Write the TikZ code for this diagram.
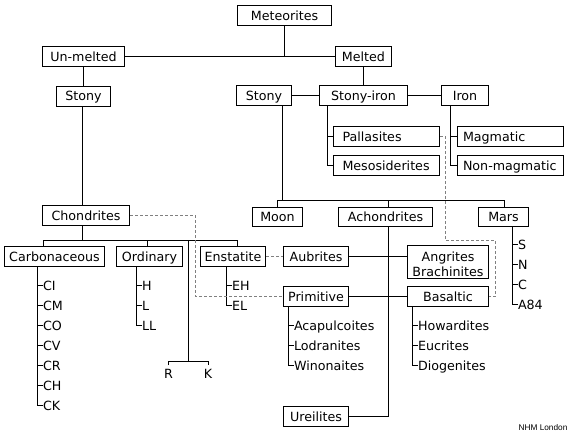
\documentclass[tikz,border=0pt]{standalone}
\usepackage{fontspec}
\setmainfont{DejaVu Sans}
\newfontfamily\nhmfont{Liberation Sans}
\newdimen\pxu \pxu=0.75pt
\tikzset{
  every node/.style={font=\fontsize{9.5}{11.25}\selectfont, inner sep=0pt},
  box/.style={draw, line width=0.75pt, rectangle, minimum height=20\pxu, text height=6.93pt, text depth=0pt},
  leaf/.style={anchor=west, text height=6.93pt, text depth=0pt},
  lbl/.style={text height=6.93pt, text depth=0pt},
  dsh/.style={line width=0.75pt, draw=gray, dash pattern=on 2.25pt off 1.5pt},
}
\begin{document}
\begin{tikzpicture}[x=0.75pt, y=-0.75pt, line width=0.75pt]
\fill[white] (0,0) rectangle (570,432);
\useasboundingbox (0,0) rectangle (570,432);
\begin{scope}[shift={(0.5,0.5)}]
% boxes
\node[box, minimum width=94\pxu] (met) at (284,15) {Meteorites};
\node[box, minimum width=82\pxu] (unm) at (83,56) {Un-melted};
\node[box, minimum width=56\pxu] (mel) at (363,56) {Melted};
\node[box, minimum width=54\pxu] (stl) at (83,95.5) {Stony};
\node[box, minimum width=55\pxu] (str) at (263.5,95) {Stony};
\node[box, minimum width=88\pxu] (sti) at (363,95) {Stony-iron};
\node[box, minimum width=47\pxu] (iron) at (464.5,95) {Iron};
\node[box, inner xsep=9\pxu, text width=88\pxu, align=left] (pal) at (386,136) {Pallasites};
\node[box, inner xsep=9\pxu, text width=88\pxu, align=left] (meso) at (386,165) {Mesosiderites};
\node[box, inner xsep=5.5\pxu, text width=95\pxu, align=left] (mag) at (510,136) {Magmatic};
\node[box, inner xsep=5.5\pxu, text width=95\pxu, align=left] (nmag) at (510,165) {Non-magmatic};
\node[box, minimum width=87\pxu] (chon) at (85.5,215) {Chondrites};
\node[box, minimum width=50\pxu, minimum height=19\pxu] (moon) at (277,216) {Moon};
\node[box, minimum width=94\pxu, minimum height=19\pxu] (ach) at (385,216) {Achondrites};
\node[box, minimum width=50\pxu, minimum height=19\pxu] (mars) at (503,216) {Mars};
\node[box, minimum width=100\pxu] (carb) at (54,256) {Carbonaceous};
\node[box, minimum width=66\pxu] (ord) at (149,256) {Ordinary};
\node[box, minimum width=65\pxu] (ens) at (232.5,256) {Enstatite};
\node[box, minimum width=65\pxu] (aub) at (315.5,256) {Aubrites};
\node[box, minimum width=81\pxu, minimum height=33\pxu, align=center, text height=21.15pt, text depth=0pt] (ang) at (447.5,261.5) {Angrites\\Brachinites};
\node[box, minimum width=65\pxu] (prim) at (315.5,296) {Primitive};
\node[box, minimum width=81\pxu] (bas) at (447.5,296) {Basaltic};
\node[box, minimum width=65\pxu] (ure) at (315.5,416) {Ureilites};
% leaves
\foreach \n/\t/\y in {ci/CI/285, cm/CM/305, co/CO/325, cv/CV/345, cr/CR/365, ch/CH/385, ck/CK/405}
  \node[leaf] (\n) at (42,\y) {\t};
\foreach \n/\t/\y in {oh/H/285, ol/L/305, oll/LL/325}
  \node[leaf] (\n) at (141,\y) {\t};
\foreach \n/\t/\y in {eh/EH/285, el/EL/305}
  \node[leaf] (\n) at (231,\y) {\t};
\foreach \n/\t/\y in {aca/Acapulcoites/325, lod/Lodranites/345, win/Winonaites/365}
  \node[leaf] (\n) at (293,\y) {\t};
\foreach \n/\t/\y in {how/Howardites/325, euc/Eucrites/345, dio/Diogenites/365}
  \node[leaf] (\n) at (417,\y) {\t};
\foreach \n/\t/\y in {ms/S/244, mn/N/264, mc/C/284, ma/A84/304}
  \node[leaf] (\n) at (517,\y) {\t};
\node[lbl] (R) at (168,373) {R};
\node[lbl] (K) at (207.5,373) {K};
\node[font=\nhmfont\fontsize{6.2}{7}\selectfont] (nhm) at (542.5,427.5) {NHM London};
% connectors
\draw (met) -- (met |- unm.east);
\draw (unm) -- (mel);
\draw (unm) -- (stl);
\draw (mel) -- (sti);
\draw (str) -- (sti);
\draw (sti) -- (iron);
\draw (sti.south -| 327,0) |- (meso.west);
\draw (pal.west) -- ++(-6,0);
\draw (iron.south -| 450,0) |- (nmag.west);
\draw (mag.west) -- ++(-7,0);
\coordinate (j2) at (282,200);
\draw (str.south -| j2) -- (j2);
\draw (moon.north) |- (504,200) -- (mars.north -| 504,0);
\draw (ach.north -| 388,0) -- (388,200);
\draw (ach.south -| 388,0) |- (ure.east);
\draw (aub.east) -- (aub.east -| ang.west);
\draw (prim) -- (bas);
\coordinate (j3) at (82,240);
\draw (stl.south -| j3) -- (chon.north -| j3);
\draw (chon.south -| j3) -- (j3);
\draw (carb.north -| 43,0) |- (237,240) -- (ens.north -| 237,0);
\draw (ord.north -| 147,0) -- (147,240);
\coordinate (j4) at (188,361);
\draw (188,240) -- (j4);
\draw ([shift={(0,-3)}]R.north) |- (j4) -| ([shift={(0,-3)}]K.north);
% sub-lists
\draw (carb.south -| 37,0) |- (ck.west);
\foreach \n in {ci,cm,co,cv,cr,ch} \draw (\n.west) -- ++(-5,0);
\draw (ord.south -| 136,0) |- (oll.west);
\foreach \n in {oh,ol} \draw (\n.west) -- ++(-5,0);
\draw (ens.south -| 226,0) |- (el.west);
\draw (eh.west) -- ++(-5,0);
\draw (prim.south -| 288,0) |- (win.west);
\foreach \n in {aca,lod} \draw (\n.west) -- ++(-5,0);
\draw (bas.south -| 412,0) |- (dio.west);
\foreach \n in {how,euc} \draw (\n.west) -- ++(-5,0);
\draw (mars.south -| 512,0) |- (ma.west);
\foreach \n in {ms,mn,mc} \draw (\n.west) -- ++(-5,0);
% dashed links
\draw[dsh] (ens) -- (aub);
\draw[dsh] (chon.east) -| (195,296) -- (prim.west);
\draw[dsh] (pal.east) -| (445,240) -| (495,296) -- (bas.east);
\end{scope}
\end{tikzpicture}
\end{document}
